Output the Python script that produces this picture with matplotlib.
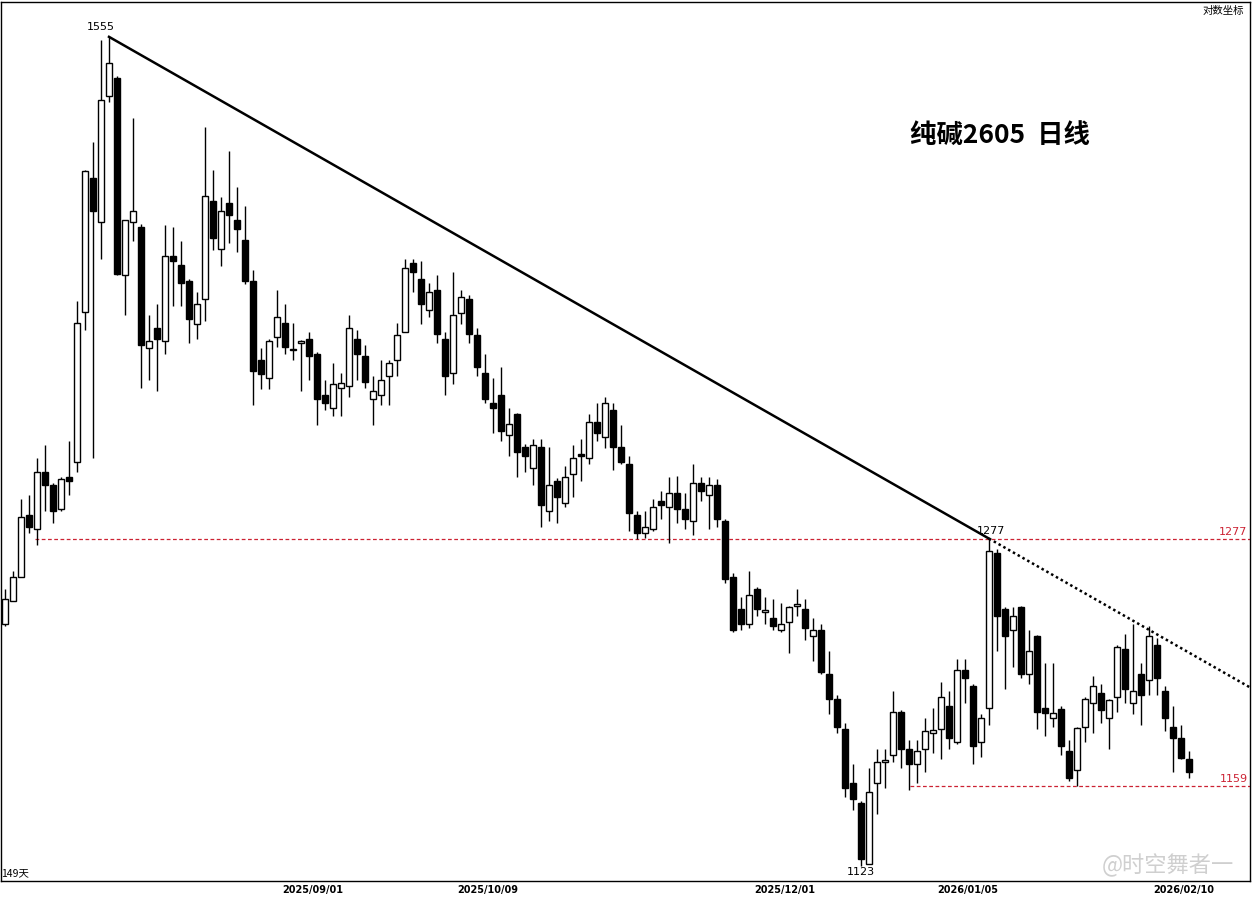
import matplotlib
matplotlib.use('Agg')
import numpy as np
import matplotlib.pyplot as plt

plt.rcParams['font.family'] = ['DejaVu Sans', 'Noto Sans CJK SC']

# daily OHLC (149 bars)
opens = [1235, 1246, 1258, 1289, 1282, 1311, 1304, 1292, 1308, 1316,
         1396, 1471, 1446, 1519, 1530, 1416, 1446, 1443, 1376, 1387,
         1380, 1427, 1422, 1413, 1389, 1403, 1458, 1431, 1457, 1447,
         1436, 1413, 1370, 1360, 1382, 1390, 1375.5, 1379, 1381, 1373,
         1351, 1344, 1355, 1356, 1381, 1372, 1349, 1351, 1361, 1370,
         1385, 1423, 1414, 1397, 1408, 1381, 1363, 1395, 1403, 1383,
         1363, 1347, 1351, 1330, 1341, 1324, 1313, 1324, 1291, 1306,
         1295, 1310, 1320, 1318, 1337, 1329, 1343, 1324, 1315, 1289,
         1280, 1282, 1296, 1293, 1300, 1292, 1286, 1305, 1299, 1304,
         1286, 1258, 1242, 1235, 1252, 1240.5, 1238, 1232, 1236, 1243.5,
         1242, 1229, 1232, 1211, 1199, 1185, 1160, 1151, 1124, 1160,
         1170, 1173, 1193, 1176, 1169, 1176, 1183, 1185, 1196, 1179,
         1213, 1205, 1179, 1195, 1270, 1242, 1232, 1243, 1211, 1229,
         1195, 1190, 1194.5, 1175, 1166, 1186, 1197, 1202, 1190, 1200,
         1223, 1197, 1211, 1208, 1225, 1203, 1186, 1181, 1171]
highs = [1252, 1261, 1297, 1299, 1318, 1325, 1305, 1308, 1327, 1402,
         1476, 1492, 1553, 1555, 1531, 1447, 1506, 1445, 1394, 1400,
         1444, 1443, 1435, 1414, 1407, 1501, 1476, 1460, 1487, 1466,
         1455, 1419, 1376, 1381, 1408, 1400, 1390, 1380.5, 1385, 1374,
         1359, 1368, 1363, 1394, 1386, 1378, 1361, 1370, 1370, 1390,
         1425, 1425, 1424, 1412, 1416, 1385, 1418, 1408, 1405, 1387,
         1373, 1360, 1366, 1344, 1341.5, 1325.5, 1328, 1328, 1324, 1307.5,
         1314, 1325, 1328, 1341, 1347, 1350, 1347, 1335, 1319, 1291,
         1291, 1297, 1301, 1308, 1309, 1300, 1315, 1308, 1308, 1307,
         1287, 1260, 1248, 1261, 1253, 1248, 1247, 1245, 1243.5, 1252,
         1247, 1238, 1235, 1222, 1201, 1188, 1169, 1152, 1167, 1176,
         1176, 1203, 1194, 1180, 1180, 1190, 1195, 1207, 1203, 1218,
         1218, 1206, 1192, 1277, 1272, 1243, 1243, 1243.5, 1232, 1229.5,
         1216, 1216, 1196, 1180, 1186, 1200, 1210, 1206, 1199, 1225,
         1230, 1235, 1216, 1234, 1228, 1205, 1196, 1187, 1175]
lows = [1234, 1246, 1258, 1280, 1274, 1291, 1285, 1291, 1299, 1311,
        1386, 1318, 1425, 1516, 1416, 1394, 1435, 1355, 1359, 1353,
        1373, 1399, 1399, 1379, 1381, 1391, 1430, 1421, 1434, 1429,
        1411, 1346, 1354, 1354, 1377, 1373, 1370, 1353, 1359, 1335,
        1343, 1340, 1340, 1350, 1359, 1355, 1335, 1346, 1346, 1361,
        1385, 1407, 1389, 1393, 1379, 1351, 1357, 1389, 1379, 1361,
        1347, 1331, 1327, 1319, 1308, 1311, 1304, 1283, 1286, 1285,
        1293, 1298, 1306, 1315, 1327, 1323, 1312, 1315, 1281, 1277,
        1277.5, 1281, 1287, 1275, 1285, 1282, 1279, 1296, 1282, 1283,
        1255, 1231, 1232, 1233, 1239, 1235, 1232, 1231, 1221, 1239,
        1227, 1217, 1211, 1192, 1183, 1154, 1148, 1123, 1124, 1146,
        1158, 1170, 1167, 1157, 1160, 1165, 1174, 1171, 1176, 1178,
        1197, 1169, 1172, 1187, 1222, 1204, 1214, 1209, 1206, 1185,
        1182, 1186, 1173, 1161, 1159, 1179, 1183, 1188, 1176, 1193,
        1197, 1192, 1187, 1201, 1201, 1184, 1165, 1171, 1162.5]
closes = [1247, 1258, 1288, 1283, 1311, 1304, 1291, 1307, 1306, 1390,
          1475, 1452, 1517, 1539, 1417, 1447, 1452, 1378, 1380, 1381,
          1427, 1424, 1412, 1392, 1400, 1461, 1437, 1452, 1450, 1442,
          1413, 1364, 1362, 1380, 1393, 1377, 1375, 1380, 1372, 1349,
          1347, 1357, 1357.5, 1387, 1373, 1358, 1353, 1359, 1368, 1383,
          1420, 1418, 1400, 1407, 1384, 1361, 1394, 1404, 1384, 1366,
          1349, 1344, 1332, 1336, 1321, 1319, 1325, 1294, 1304, 1298,
          1308, 1318, 1319, 1337, 1331, 1347, 1324, 1316, 1290, 1280,
          1283, 1293, 1294, 1300, 1292, 1287, 1305, 1301, 1304, 1287,
          1257, 1232, 1235, 1249, 1242, 1241.5, 1234, 1235, 1243, 1244.5,
          1233, 1232, 1212, 1199, 1186, 1158, 1153, 1126, 1156, 1170,
          1170.5, 1193, 1176, 1169, 1175, 1184, 1184.5, 1200, 1181, 1213,
          1209, 1177, 1190, 1271, 1239, 1229, 1239, 1211, 1222, 1193,
          1192.5, 1192.5, 1177, 1162.5, 1185.5, 1199, 1205, 1194, 1198.5, 1224,
          1204, 1203, 1201, 1229, 1209, 1190, 1181, 1171.5, 1165]

date_pos = [38.5, 60.4, 97.5, 120.4, 147.3]
date_labels = ['2025/09/01', '2025/10/09', '2025/12/01', '2026/01/05', '2026/02/10']

high_idx, high_val = 13, 1555
peak2_idx, peak2_val = 123, 1277
low_idx, low_val = 107, 1123
support_val, support_start = 1159, 113.1
resist_start = 3.75

o = np.array(opens)
h = np.array(highs)
l = np.array(lows)
c = np.array(closes)
x = np.arange(len(o))

fig = plt.figure(figsize=(12.53, 8.99), dpi=100)
ax = fig.add_axes([1 / 1253, 18 / 899, 1249 / 1253, 879 / 899])
ax.set_yscale('log')
xmin, xmax = -0.5, -0.5 + 1249 / 8
ax.set_xlim(xmin, xmax)
ax.set_ylim(1116.4, 1576.4)

up = c >= o
ax.vlines(x, l, h, color='black', lw=1, zorder=2)
body_lo = np.minimum(o, c)
body_hi = np.maximum(o, c)
hgt = np.maximum(body_hi - body_lo, 0.6)
ax.bar(x[up], hgt[up], bottom=body_lo[up], width=0.72, facecolor='white',
       edgecolor='black', linewidth=1, zorder=3)
ax.bar(x[~up], hgt[~up], bottom=body_lo[~up], width=0.72, facecolor='black',
       edgecolor='black', linewidth=1, zorder=3)

# trend line on log scale
ly1, ly2 = np.log(high_val), np.log(peak2_val)
slope = (ly2 - ly1) / (peak2_idx - high_idx)
ax.plot([high_idx, peak2_idx], [high_val, peak2_val], color='black', lw=1.8, zorder=4)
ax.plot([peak2_idx, xmax], [peak2_val, np.exp(ly2 + slope * (xmax - peak2_idx))],
        color='black', lw=1.8, ls=(0, (1, 1.2)), zorder=4)

red = '#cc2233'
ax.hlines(peak2_val, resist_start, xmax, colors=red, lw=0.9, linestyles=(0, (3, 2)), zorder=1)
ax.hlines(support_val, support_start, xmax, colors=red, lw=0.9, linestyles=(0, (3, 2)), zorder=1)
ax.text(xmax - 0.3, peak2_val * 1.0008, '1277', color=red, fontsize=8, ha='right', va='bottom')
ax.text(xmax - 0.3, support_val * 1.0008, '1159', color=red, fontsize=8, ha='right', va='bottom')

ax.text(12, high_val * 1.002, '1555', fontsize=8, ha='center', va='bottom')
ax.text(peak2_idx + 0.3, peak2_val * 1.001, '1277', fontsize=8, ha='center', va='bottom')
ax.text(low_idx, low_val * 0.9995, '1123', fontsize=8, ha='center', va='top')

ax.text(0.995, 0.995, '对数坐标', transform=ax.transAxes, fontsize=7.5, ha='right', va='top',
        family=['Noto Sans CJK SC'])
ax.text(0.0, 0.003, '149天', transform=ax.transAxes, fontsize=7.5, ha='left', va='bottom',
        family=['Noto Sans CJK SC'])
ax.text(0.8, 0.848, '纯碱2605  日线', transform=ax.transAxes, fontsize=19, ha='center',
        va='center', fontweight='bold', family=['Noto Sans CJK SC'])

ax.set_yticks([])
ax.minorticks_off()
ax.set_yticks([], minor=True)
ax.set_xticks(date_pos)
ax.set_xticklabels(date_labels, fontsize=7, fontweight='bold')
ax.tick_params(axis='x', length=0, pad=3)
for s in ax.spines.values():
    s.set_linewidth(1)

fig.text(0.985, 0.024, '@时空舞者一', fontsize=16, color='#cfcfcf', ha='right', va='bottom',
         family=['Noto Sans CJK SC'], zorder=0)

fig.savefig('out.png', dpi=100)
